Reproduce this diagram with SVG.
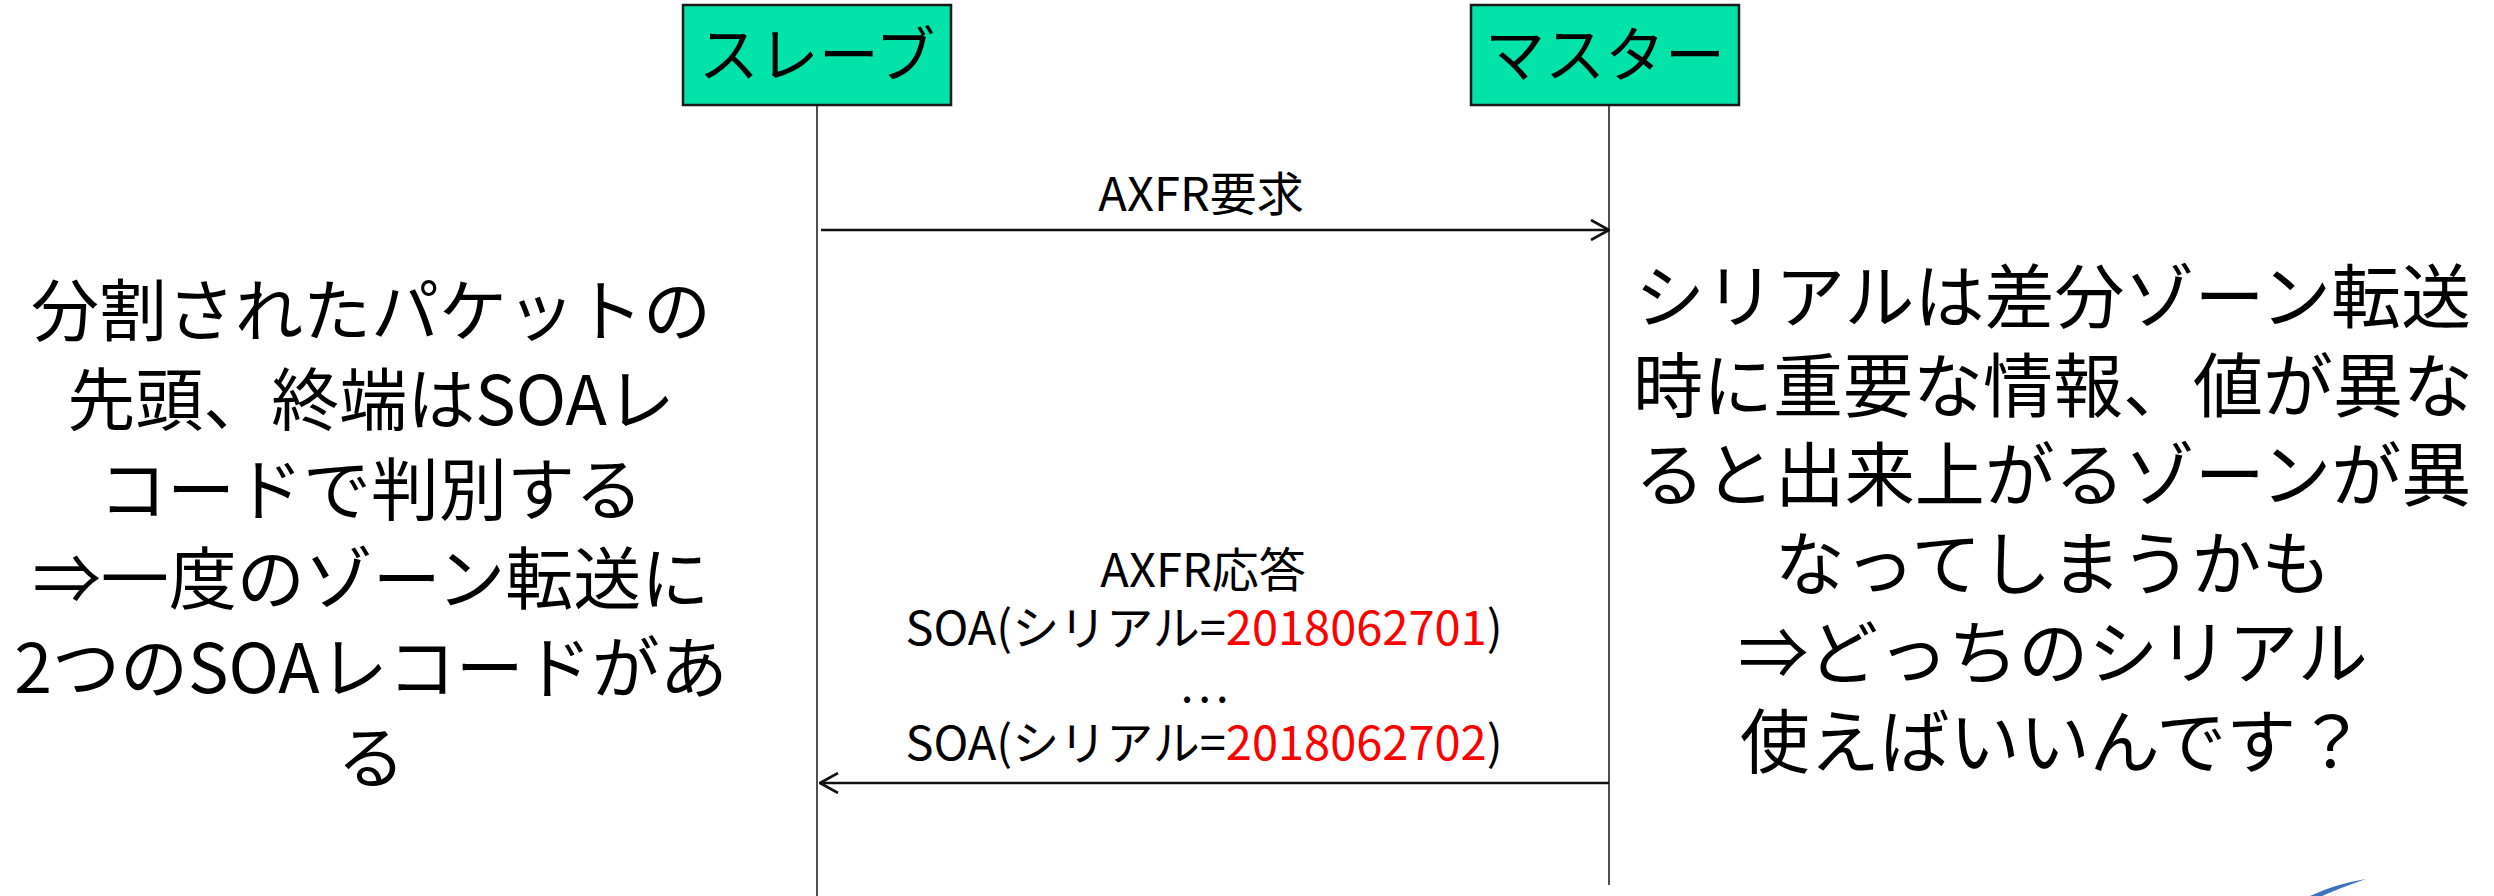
<svg xmlns="http://www.w3.org/2000/svg" width="2494" height="896" viewBox="0 0 2494 896">
<style>
.box{fill:#02E3AA;stroke:#1a1a1a;stroke-width:2.5}
.lbl{font-family:"Noto Sans CJK JP","Noto Sans",sans-serif;font-size:60px;fill:#000;text-anchor:middle}
.msg{font-family:"Noto Sans CJK JP","Noto Sans",sans-serif;font-size:47px;fill:#000;text-anchor:middle}
.big{font-family:"Noto Sans CJK JP","Noto Sans",sans-serif;font-size:70px;fill:#000;text-anchor:middle}
.bigl{font-size:68px}
.life{stroke:#222;stroke-width:1.6;fill:none}
.arr{stroke:#111;stroke-width:2.6;fill:none}
.red{fill:#FF0000}
</style>
<defs>
<marker id="open" viewBox="0 0 20 22" refX="19" refY="11" markerWidth="20" markerHeight="22" markerUnits="userSpaceOnUse" orient="auto">
<path d="M1,1 L19,11 L1,21" fill="none" stroke="#111" stroke-width="2.6"/>
</marker>
</defs>
<rect width="2494" height="896" fill="#fff"/>
<g id="connectors">
<line class="life" x1="817" y1="105" x2="817" y2="896"/>
<line class="life" x1="1609" y1="105" x2="1609" y2="885"/>
<line class="arr" x1="821" y1="230" x2="1609" y2="230" marker-end="url(#open)"/>
<text class="msg" x="1201" y="211">AXFR要求</text>
<line class="arr" x1="1609" y1="783" x2="820" y2="783" marker-end="url(#open)"/>
<text class="msg" x="1203" y="587">AXFR応答<tspan x="1204" dy="58">SOA(シリアル=<tspan class="red">2018062701</tspan>)</tspan><tspan x="1204" dy="57">…</tspan><tspan x="1204" dy="58">SOA(シリアル=<tspan class="red">2018062702</tspan>)</tspan></text>
</g>
<g id="slave">
<rect class="box" x="683" y="5" width="268" height="100"/>
<text class="lbl" x="817" y="77">スレーブ</text>
</g>
<g id="master">
<rect class="box" x="1471" y="5" width="268" height="100"/>
<text class="lbl" x="1605" y="77">マスター</text>
</g>
<g id="note-left">
<text class="big bigl" x="371" y="336">分割されたパケットの<tspan x="371" dy="89">先頭、終端はSOAレ</tspan><tspan x="371" dy="90">コードで判別する</tspan><tspan x="371" dy="89">⇒一度のゾーン転送に</tspan><tspan x="371" dy="89">2つのSOAレコードがあ</tspan><tspan x="371" dy="90">る</tspan></text>
</g>
<g id="note-right">
<text class="big" x="2053" y="323">シリアルは差分ゾーン転送<tspan x="2053" dy="89">時に重要な情報、値が異な</tspan><tspan x="2053" dy="89">ると出来上がるゾーンが異</tspan><tspan x="2053" dy="89">なってしまうかも</tspan><tspan x="2053" dy="89">⇒どっちのシリアル</tspan><tspan x="2053" dy="89">使えばいいんです？</tspan></text>
</g>
<path d="M2310,896 Q2335,884 2366,879 Q2340,888 2322,896 Z" fill="#3d72c0"/>
</svg>
